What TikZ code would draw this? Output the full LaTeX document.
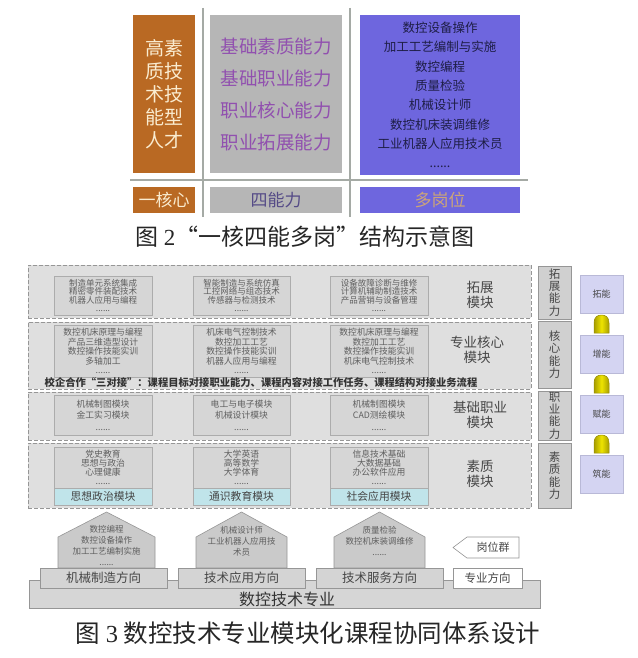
\documentclass[tikz,border=0pt]{standalone}
\usepackage{fontspec}
\setmainfont{Liberation Serif}
\newfontfamily\cjk{Noto Sans CJK SC}
\usetikzlibrary{calc}
\definecolor{corecol}{RGB}{185,105,35}
\definecolor{corelight}{RGB}{250,236,208}
\definecolor{abgray}{RGB}{182,182,182}
\definecolor{abpurple}{RGB}{145,80,175}
\definecolor{fourtxt}{RGB}{85,75,135}
\definecolor{postblue}{RGB}{110,102,222}
\definecolor{posttxt}{RGB}{30,30,70}
\definecolor{multtxt}{RGB}{205,165,120}
\definecolor{sepcol}{RGB}{165,170,165}
\definecolor{rowfill}{RGB}{223,223,223}
\definecolor{dashgray}{RGB}{150,150,150}
\definecolor{infill}{RGB}{214,214,214}
\definecolor{inborder}{RGB}{172,172,172}
\definecolor{modtxt}{RGB}{95,95,95}
\definecolor{stripcol}{RGB}{192,228,234}
\definecolor{labtxt}{RGB}{70,70,70}
\definecolor{abfill}{RGB}{208,208,208}
\definecolor{lvfill}{RGB}{212,212,242}
\definecolor{lvborder}{RGB}{185,185,215}
\definecolor{bulyel}{RGB}{238,228,0}
\definecolor{buldark}{RGB}{150,140,0}
\definecolor{housefill}{RGB}{202,202,202}
\definecolor{boxborder}{RGB}{150,150,150}
\definecolor{dirfill}{RGB}{212,212,212}
\definecolor{basefill}{RGB}{214,214,214}
\newcommand\fz[2]{\fontsize{#1}{#2}\selectfont}
\begin{document}
\begin{tikzpicture}[x=1pt,y=-1pt,
  every node/.style={inner sep=0pt, outer sep=0pt},
  obox/.style={fill=corecol, text=corelight, align=center, anchor=north west},
  gbox/.style={fill=abgray, text=abpurple, align=center, anchor=north west},
  bbox/.style={fill=postblue, text=posttxt, align=center, anchor=north west},
  sepline/.style={draw=sepcol, line width=2.5pt},
  rowbox/.style={draw=dashgray, dash pattern=on 4pt off 2pt, line width=0.8pt, fill=rowfill, anchor=north west},
  ibox/.style={draw=inborder, line width=0.6pt, fill=infill, text=modtxt, align=center, anchor=north west},
  stripbox/.style={draw=inborder, line width=0.6pt, fill=stripcol, text=labtxt, align=center, anchor=north west, font={\cjk\fz{10.8}{11}}},
  lab/.style={text=labtxt, align=center, font={\cjk\fz{13.5}{15}}},
  abox/.style={draw=boxborder, line width=0.6pt, fill=abfill, text=labtxt, align=center, anchor=north west, font={\cjk\fz{11.5}{12.3}}},
  lvbox/.style={draw=lvborder, line width=0.5pt, fill=lvfill, text=labtxt, align=center, anchor=north west, font={\cjk\fz{9}{9}}, minimum width=43, minimum height=38},
  bullet/.style={draw=buldark, line width=0.5pt, shading=axis, left color=buldark!80!bulyel, right color=buldark!80!bulyel, middle color=bulyel},
  house/.style={draw=boxborder, line width=0.6pt, fill=housefill},
  htxt/.style={text=modtxt, align=center, font={\cjk\fz{8.5}{11}}},
  dirbox/.style={draw=boxborder, line width=0.6pt, fill=dirfill, text=labtxt, anchor=north west, font={\cjk\fz{12.5}{12.5}}, minimum width=127, minimum height=20},
  capt/.style={text=black!85, font={\cjk\fz{23}{23}}}
]
\useasboundingbox (0,0) rectangle (637,658);
\fill[white] (0,0) rectangle (637,658);

% ---------- Figure 2 ----------
\draw[sepline] (203,8) -- (203,217);
\draw[sepline] (350,8) -- (350,217);
\draw[sepline] (130,180) -- (528,180);
\node[obox, minimum width=62, minimum height=158, font={\cjk\fz{19}{23}}] (core) at (133,15) {高素\\质技\\术技\\能型\\人才};
\node[gbox, minimum width=132, minimum height=158, font={\cjk\fz{18.5}{32}}] (abil) at (210,15) {基础素质能力\\基础职业能力\\职业核心能力\\职业拓展能力};
\node[bbox, minimum width=160, minimum height=160, font={\cjk\fz{12.5}{19.3}}] (posts) at (360,15) {数控设备操作\\加工工艺编制与实施\\数控编程\\质量检验\\机械设计师\\数控机床装调维修\\工业机器人应用技术员\\......};
\node[obox, minimum width=62, minimum height=26, font={\cjk\fz{17}{17}}] (corel) at (133,187) {一核心};
\node[gbox, minimum width=132, minimum height=26, text=fourtxt, font={\cjk\fz{17}{17}}] (abill) at (210,187) {四能力};
\node[bbox, minimum width=160, minimum height=26, text=multtxt, font={\cjk\fz{17}{17}}] (postsl) at (360,187) {多岗位};
\node[capt] (cap2) at (305,237) {图 {\rmfamily 2}“一核四能多岗”结构示意图};

% ---------- Figure 3: module rows ----------
\node[rowbox, minimum width=503, minimum height=53] (r1) at (28,265) {};
\node[rowbox, minimum width=503, minimum height=67] (r2) at (28,322) {};
\node[rowbox, minimum width=503, minimum height=48] (r3) at (28,392) {};
\node[rowbox, minimum width=503, minimum height=65] (r4) at (28,443) {};

% row 1
\node[ibox, minimum width=98, minimum height=39, font={\cjk\fz{8.5}{8.6}}] (m11) at (54,276) {制造单元系统集成\\精密零件装配技术\\机器人应用与编程\\......};
\node[ibox, minimum width=97, minimum height=39, font={\cjk\fz{8.5}{8.6}}] (m12) at (193,276) {智能制造与系统仿真\\工控网络与组态技术\\传感器与检测技术\\......};
\node[ibox, minimum width=98, minimum height=39, font={\cjk\fz{8.5}{8.6}}] (m13) at (330,276) {设备故障诊断与维修\\计算机辅助制造技术\\产品营销与设备管理\\......};
\node[lab] (t1) at (480,295) {拓展\\模块};
% row 2
\node[ibox, minimum width=98, minimum height=52, font={\cjk\fz{8.8}{9.5}}] (m21) at (54,325) {数控机床原理与编程\\产品三维造型设计\\数控操作技能实训\\多轴加工\\......};
\node[ibox, minimum width=97, minimum height=52, font={\cjk\fz{8.8}{9.5}}] (m22) at (193,325) {机床电气控制技术\\数控加工工艺\\数控操作技能实训\\机器人应用与编程\\......};
\node[ibox, minimum width=98, minimum height=52, font={\cjk\fz{8.8}{9.5}}] (m23) at (330,325) {数控机床原理与编程\\数控加工工艺\\数控操作技能实训\\机床电气控制技术\\......};
\node[lab] (t2) at (477,349.5) {专业核心\\模块};
\node[text=black!80, font={\cjk\bfseries\fz{10.3}{10.3}}] (coop) at (261,383) {校企合作“三对接”：课程目标对接职业能力、课程内容对接工作任务、课程结构对接业务流程};
% row 3
\node[ibox, minimum width=98, minimum height=40, font={\cjk\fz{8.8}{11.5}}] (m31) at (54,395) {机械制图模块\\金工实习模块\\......};
\node[ibox, minimum width=97, minimum height=40, font={\cjk\fz{8.8}{11.5}}] (m32) at (193,395) {电工与电子模块\\机械设计模块\\......};
\node[ibox, minimum width=98, minimum height=40, font={\cjk\fz{8.8}{11.5}}] (m33) at (330,395) {机械制图模块\\CAD测绘模块\\......};
\node[lab] (t3) at (480,414.5) {基础职业\\模块};
% row 4
\node[ibox, minimum width=98, minimum height=41, font={\cjk\fz{8.8}{8.8}}] (m41) at (54,447) {党史教育\\思想与政治\\心理健康\\......};
\node[ibox, minimum width=97, minimum height=41, font={\cjk\fz{8.8}{8.8}}] (m42) at (193,447) {大学英语\\高等数学\\大学体育\\......};
\node[ibox, minimum width=98, minimum height=41, font={\cjk\fz{8.8}{8.8}}] (m43) at (330,447) {信息技术基础\\大数据基础\\办公软件应用\\......};
\node[stripbox, minimum width=98, minimum height=17] (s1) at (54,488) {思想政治模块};
\node[stripbox, minimum width=97, minimum height=17] (s2) at (193,488) {通识教育模块};
\node[stripbox, minimum width=98, minimum height=17] (s3) at (330,488) {社会应用模块};
\node[lab] (t4) at (480,474) {素质\\模块};

% ---------- right column ----------
\node[abox, minimum width=33, minimum height=53] (a1) at (538,266) {拓\\展\\能\\力};
\node[abox, minimum width=33, minimum height=67] (a2) at (538,321) {核\\心\\能\\力};
\node[abox, minimum width=33, minimum height=49] (a3) at (538,391) {职\\业\\能\\力};
\node[abox, minimum width=33, minimum height=65] (a4) at (538,443) {素\\质\\能\\力};
\node[lvbox] (p1) at (580,275) {拓能};
\node[lvbox] (p2) at (580,335) {增能};
\node[lvbox] (p3) at (580,395) {赋能};
\node[lvbox] (p4) at (580,455) {筑能};
\foreach \lo/\up in {p4/p3, p3/p2, p2/p1} {
  \draw[bullet] ($(\lo.north)+(-7.5,-2)$) -- ($(\up.south)+(-7.5,10)$)
     .. controls ($(\up.south)+(-7.5,4)$) and ($(\up.south)+(-4,2)$) .. ($(\up.south)+(0,2)$)
     .. controls ($(\up.south)+(4,2)$) and ($(\up.south)+(7.5,4)$) .. ($(\up.south)+(7.5,10)$)
     -- ($(\lo.north)+(7.5,-2)$) -- cycle;
}

% ---------- bottom: directions ----------
\node[draw=boxborder, line width=0.6pt, fill=basefill, anchor=north west, minimum width=511, minimum height=28] (base) at (29,580) {};
\node[text=black!80, font={\cjk\fz{16}{16}}] (basetxt) at (287,599) {数控技术专业};
\draw[house] (58,568) -- (58,537) -- (106.5,512) -- (155,537) -- (155,568) -- cycle;
\draw[house] (196,568) -- (196,537) -- (241.5,512) -- (287,537) -- (287,568) -- cycle;
\draw[house] (334,568) -- (334,537) -- (379.5,512) -- (425,537) -- (425,568) -- cycle;
\node[htxt] (h1) at (106.5,545.5) {数控编程\\数控设备操作\\加工工艺编制实施\\......};
\node[htxt] (h2) at (241.5,541) {机械设计师\\工业机器人应用技\\术员};
\node[htxt] (h3) at (379.5,541) {质量检验\\数控机床装调维修\\......};
\node[dirbox] (d1) at (40,568) {机械制造方向};
\node[dirbox] (d2) at (178,568) {技术应用方向};
\node[dirbox] (d3) at (316,568) {技术服务方向};
\node[dirbox, fill=white, minimum width=69, font={\cjk\fz{11.5}{11.5}}] (d4) at (453,568) {专业方向};
\draw[draw=boxborder, line width=0.6pt, fill=white] (453,547.5) -- (467,537) -- (519,537) -- (519,558) -- (467,558) -- cycle;
\node[text=labtxt, font={\cjk\fz{11}{11}}] (gwq) at (493,547.5) {岗位群};

\node[capt, font={\cjk\fz{24.5}{24.5}}] (cap3) at (308,633) {图 {\rmfamily 3} 数控技术专业模块化课程协同体系设计};
\end{tikzpicture}
\end{document}
